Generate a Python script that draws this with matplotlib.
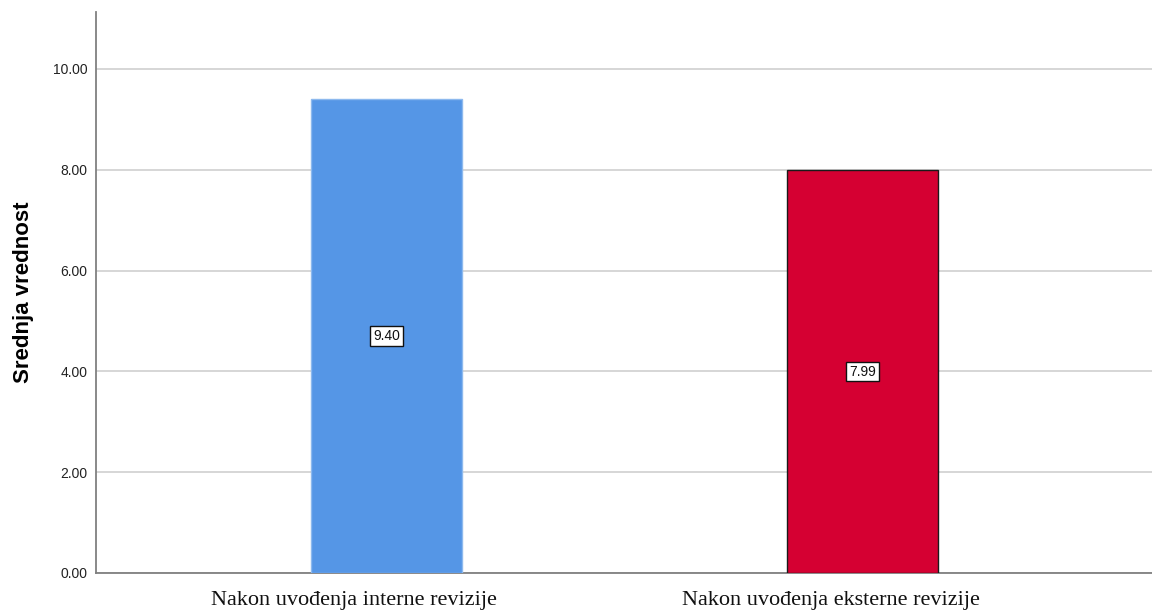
import matplotlib
matplotlib.use("Agg")
import matplotlib.pyplot as plt
from matplotlib.transforms import ScaledTranslation

categories = ["Nakon uvođenja interne revizije", "Nakon uvođenja eksterne revizije"]
means = [9.40, 7.99]
bar_colors = ["#5596E6", "#D50032"]
edge_colors = ["#8DB9EE", "#1a1a1a"]
y_ticks = [0, 2, 4, 6, 8, 10]

fig = plt.figure(figsize=(11.52, 6.13), dpi=100)
ax = fig.add_axes([96 / 1152, 1 - 573 / 613, (1152 - 96) / 1152, (573 - 12) / 613])

x = list(range(len(categories)))
bars = ax.bar(x, means, width=0.317, color=bar_colors, edgecolor=edge_colors,
              linewidth=1.0, zorder=3)

ax.set_xlim(-0.610, 1.608)
ax.set_ylim(0, 11.13)
ax.set_yticks(y_ticks)
ax.set_yticklabels([f"{v:.2f}" for v in y_ticks], fontfamily="Liberation Sans",
                   fontsize=10, color="#222222")
ax.set_xticks(x)
ax.set_xticklabels(categories, fontfamily="Liberation Serif", fontsize=16, color="#111111")
ax.tick_params(axis="both", length=0)
ax.tick_params(axis="y", pad=6)
ax.tick_params(axis="x", pad=13)

# category labels sit a little left of the bar centres
shift = ScaledTranslation(-32 / 100, 0, fig.dpi_scale_trans)
for lbl in ax.get_xticklabels():
    lbl.set_transform(lbl.get_transform() + shift)

ax.yaxis.grid(True, color="#d0d0d0", linewidth=1.2, zorder=0)
ax.set_axisbelow(True)

for side in ("top", "right"):
    ax.spines[side].set_visible(False)
for side in ("left", "bottom"):
    ax.spines[side].set_color("#808080")
    ax.spines[side].set_linewidth(1.3)

ax.set_ylabel("Srednja vrednost", fontfamily="Liberation Sans", fontsize=16,
              fontweight="bold")
ax.yaxis.set_label_coords(-0.059, 0.5)

for xi, v in zip(x, means):
    ax.text(xi, v / 2, f"{v:.2f}", ha="center", va="center",
            fontfamily="Liberation Sans", fontsize=10, color="#111111", zorder=5,
            bbox=dict(boxstyle="square,pad=0.2", facecolor="white",
                      edgecolor="#111111", linewidth=1.0))

fig.savefig("out.png", dpi=100)
